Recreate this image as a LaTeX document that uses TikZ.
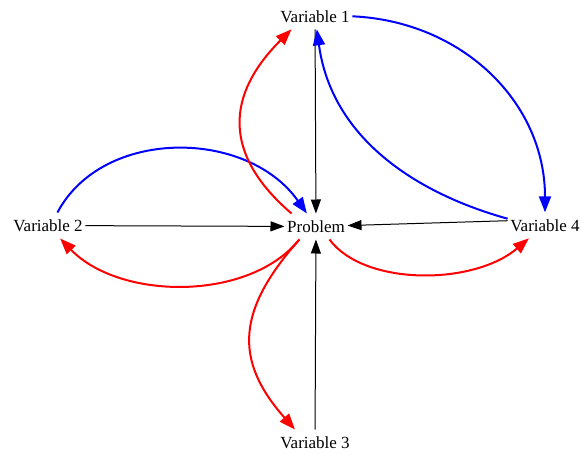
\documentclass[tikz,border=0pt]{standalone}
\usepackage{fontspec}
\setmainfont{Liberation Serif}
\usetikzlibrary{arrows.meta}
\begin{document}
\begin{tikzpicture}[x=1pt,y=-1pt,
  vnode/.style={inner xsep=2.5pt, inner ysep=7pt, text height=11.6pt, text depth=0pt,
    font=\fontsize{17}{20}\selectfont},
  blackedge/.style={draw=black, line width=1pt, -{Triangle[length=14pt,width=10pt]}},
  rededge/.style={draw=red, line width=2pt, -{Triangle[length=16pt,width=12pt]}},
  blueedge/.style={draw=blue, line width=2pt, -{Triangle[length=16pt,width=12pt]}}]
\useasboundingbox (0,0) rectangle (581,453);
\node[vnode] (v1) at (315,16.3) {Variable 1};
\node[vnode] (p)  at (316,226.5) {Problem};
\node[vnode] (v2) at (48,225.5) {Variable 2};
\node[vnode] (v3) at (315,442.5) {Variable 3};
\node[vnode] (v4) at (545,225.3) {Variable 4};
% black
\draw[blackedge] (v1) -- (p);
\draw[blackedge] (v2) -- (p);
\draw[blackedge] (v3) -- (p);
\draw[blackedge] (v4.173) -- (p);
% blue
\draw[blueedge] (v1.east) .. controls +(110,5) and +(0,-110) .. (v4.north);
\draw[blueedge] (v4.170) .. controls +(-90,-25) and +(15,110) .. (v1.278);
\draw[blueedge] (v2.54) .. controls +(45,-85) and +(-60,-85) .. (p.125);
% red
\draw[rededge] (p.152) .. controls +(-70,-60) and +(-65,65) .. (v1.209);
\draw[rededge] (p.218) .. controls +(-50,62) and +(60,62) .. (v2.313);
\draw[rededge] (p.218) .. controls +(-62,70) and +(-62,-70) .. (v3.147);
\draw[rededge] (p.316) .. controls +(35,47) and +(-55,47) .. (v4.219);
\end{tikzpicture}
\end{document}
